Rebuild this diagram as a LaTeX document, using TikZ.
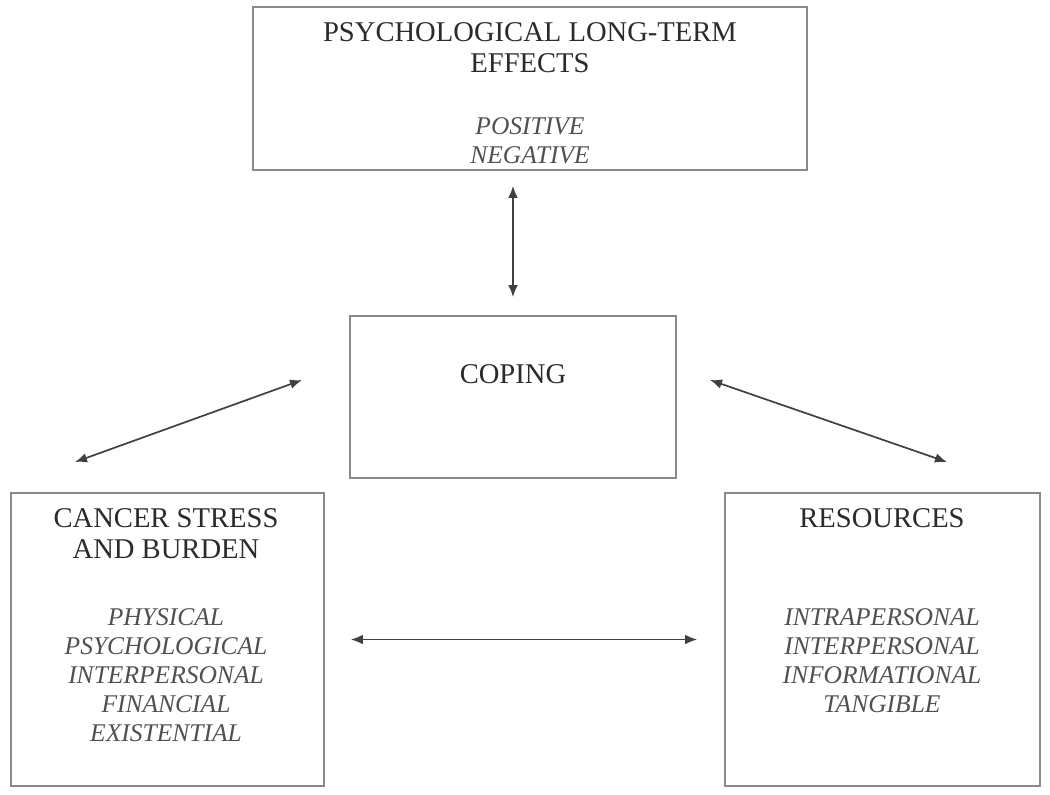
\documentclass[tikz,border=0pt]{standalone}
\usepackage{fontspec}
\setmainfont{Liberation Serif}
\usepackage{tikz}
\usetikzlibrary{arrows.meta,positioning,calc}
\usepackage{xcolor}
\definecolor{boxgray}{HTML}{8A8A8A}
\definecolor{headgray}{HTML}{2B2B2B}
\definecolor{listgray}{HTML}{505050}
\definecolor{arrowgray}{HTML}{404040}
\tikzset{
  mbox/.style={draw=boxgray, line width=0.8pt, rectangle, inner sep=0pt},
  mhead/.style={anchor=north, align=center, inner sep=0pt, text=headgray,
    font=\fontsize{14.3}{15.7}\selectfont},
  mlist/.style={anchor=north, align=center, inner sep=0pt, text=listgray,
    font=\fontsize{12.75}{14.5}\selectfont\itshape},
  marrow/.style={{Latex[length=6pt,width=4.8pt]}-{Latex[length=6pt,width=4.8pt]},
    line width=0.85pt, draw=arrowgray},
}
\begin{document}
\begin{tikzpicture}[x=0.5pt, y=-0.5pt]
  \useasboundingbox (0,0) rectangle (1050,794);

  % boxes
  \node[mbox, minimum width=277pt, minimum height=81.5pt] (effects) at (530,88.5) {};
  \node[mbox, minimum width=163pt, minimum height=81pt] (coping) at (513,397) {};
  \node[mbox, minimum width=156.5pt, minimum height=146.5pt] (stress) at (167.5,639.5) {};
  \node[mbox, minimum width=157.5pt, minimum height=146.5pt] (resources) at (882.5,639.5) {};

  % texts
  \node[mhead] (effectshead) at (530,22) {PSYCHOLOGICAL LONG-TERM\\EFFECTS};
  \node[mlist] (effectslist) at (530,117) {POSITIVE\\NEGATIVE};
  \node[mhead] (copinghead) at (513,364) {COPING};
  \node[mhead] (stresshead) at (166,508) {CANCER STRESS\\AND BURDEN};
  \node[mlist] (stresslist) at (166,608)
    {PHYSICAL\\PSYCHOLOGICAL\\INTERPERSONAL\\FINANCIAL\\EXISTENTIAL};
  \node[mhead] (resourceshead) at (882,508) {RESOURCES};
  \node[mlist] (resourceslist) at (882,608)
    {INTRAPERSONAL\\INTERPERSONAL\\INFORMATIONAL\\TANGIBLE};

  % free arrow ends
  \coordinate (stressend) at (75,462);
  \coordinate (copingleft) at (302,380);
  \coordinate (copingright) at (710,380);
  \coordinate (resourcesend) at (947,462);

  \draw[marrow, shorten <=9pt, shorten >=7.5pt] (coping.north) -- (coping.north |- effects.south);
  \draw[marrow] (stressend) -- (copingleft);
  \draw[marrow] (copingright) -- (resourcesend);
  \draw[marrow, shorten <=13pt, shorten >=13.5pt] (stress.east) -- (resources.west);
\end{tikzpicture}
\end{document}
